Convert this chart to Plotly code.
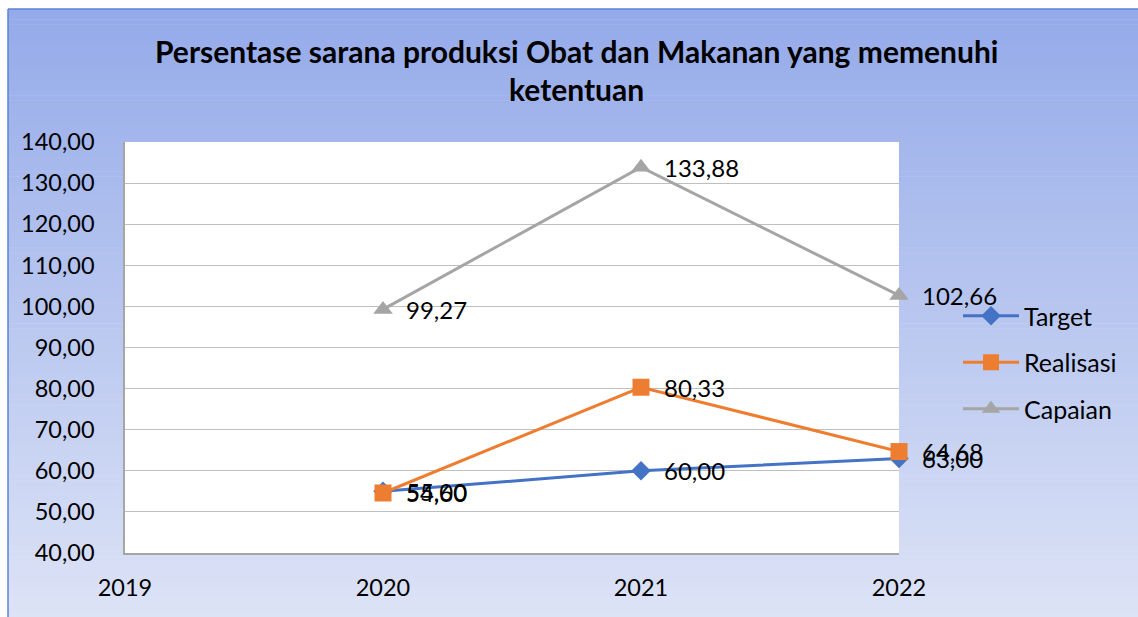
import plotly.graph_objects as go

# ---- data ----
years = [2020, 2021, 2022]
target = [55.00, 60.00, 63.00]
realisasi = [54.60, 80.33, 64.68]
capaian = [99.27, 133.88, 102.66]
series_names = ["Target", "Realisasi", "Capaian"]
x_ticks = [2019, 2020, 2021, 2022]
y_ticks = [40, 50, 60, 70, 80, 90, 100, 110, 120, 130, 140]
title_lines = ["Persentase sarana produksi Obat dan Makanan yang memenuhi", "ketentuan"]

W, H = 1138, 617
FONT = "Lato, Open Sans, sans-serif"

def fmt(v):
    return f"{v:.2f}".replace(".", ",")

colors = ["#4472C4", "#ED7D31", "#A5A5A5"]
symbols = ["diamond", "square", "triangle-up"]
sizes = [15, 17, 17]

fig = go.Figure()
for name, vals, c, s, sz in zip(series_names, [target, realisasi, capaian], colors, symbols, sizes):
    fig.add_trace(go.Scatter(
        x=years, y=vals, name=name, mode="lines+markers",
        line=dict(color=c, width=3),
        marker=dict(color=c, symbol=s, size=sz, line=dict(width=0)),
        legendgroup=name, cliponaxis=False,
    ))

annotations = []
for vals in [target, realisasi, capaian]:
    for xv, yv in zip(years, vals):
        annotations.append(dict(
            x=xv, y=yv, xref="x", yref="y", text=fmt(yv), showarrow=False,
            xanchor="left", yanchor="middle", xshift=21,
            font=dict(family=FONT, size=24, color="#000000"),
        ))

# title
annotations.append(dict(
    x=576 / W, y=1 - 51 / H, xref="paper", yref="paper",
    text="<b>" + title_lines[0] + "</b>", showarrow=False,
    xanchor="center", yanchor="middle",
    font=dict(family=FONT, size=30, color="#000000"),
))
annotations.append(dict(
    x=576 / W, y=1 - 89 / H, xref="paper", yref="paper",
    text="<b>" + title_lines[1] + "</b>", showarrow=False,
    xanchor="center", yanchor="middle",
    font=dict(family=FONT, size=30, color="#000000"),
))

# gradient background bands
shapes = []
top_c = (148, 170, 233)
bot_c = (221, 227, 246)
n = 120
y_top = 1 - 9 / H
for i in range(n):
    t0 = i / n
    t1 = (i + 1) / n
    tm = (t0 + t1) / 2
    col = tuple(int(round(top_c[k] + (bot_c[k] - top_c[k]) * tm)) for k in range(3))
    shapes.append(dict(
        type="rect", xref="paper", yref="paper", layer="below",
        x0=8 / W, x1=1, y0=y_top - t1 * y_top - 0.001, y1=y_top - t0 * y_top,
        fillcolor="rgb(%d,%d,%d)" % col, line=dict(width=0),
    ))
# chart border (left, top)
shapes.append(dict(type="line", xref="paper", yref="paper", layer="below",
                   x0=8 / W, x1=8 / W, y0=0, y1=y_top, line=dict(color="#5B83D6", width=1.5)))
shapes.append(dict(type="line", xref="paper", yref="paper", layer="below",
                   x0=8 / W, x1=1, y0=y_top, y1=y_top, line=dict(color="#5B83D6", width=1.5)))

xd = [125 / W, 899 / W]
yd = [1 - 553 / H, 1 - 142 / H]
shapes.append(dict(type="rect", xref="paper", yref="paper", layer="below",
                   x0=xd[0], x1=xd[1], y0=yd[0], y1=yd[1],
                   fillcolor="white", line=dict(width=0)))

fig.update_layout(
    template="none",
    width=W, height=H,
    margin=dict(l=0, r=0, t=0, b=0, pad=0, autoexpand=False),
    paper_bgcolor="white", plot_bgcolor="white",
    font=dict(family=FONT, size=23.5, color="#000000"),
    showlegend=True,
    legend=dict(
        x=958 / W, y=1 - 293 / H, xanchor="left", yanchor="top",
        bgcolor="rgba(0,0,0,0)", font=dict(family=FONT, size=25, color="#000000"),
        tracegroupgap=11, itemwidth=56,
    ),
    xaxis=dict(
        domain=xd, range=[2019, 2022], tickvals=x_ticks, ticktext=[str(v) for v in x_ticks],
        showgrid=False, zeroline=False, showline=True, linecolor="#A6A6A6", linewidth=1.5,
        ticks="", ticklabelstandoff=13, tickfont=dict(family=FONT, size=23.5), automargin=False,
    ),
    yaxis=dict(
        domain=yd, range=[40, 140], tickvals=y_ticks, ticktext=[fmt(v) for v in y_ticks],
        showgrid=True, gridcolor="#BFBFBF", gridwidth=1.2, zeroline=False,
        showline=True, linecolor="#A6A6A6", linewidth=1.5,
        ticks="", ticklabelstandoff=24, tickfont=dict(family=FONT, size=23.5), automargin=False,
    ),
    shapes=shapes,
    annotations=annotations,
)

fig.write_html("out.html", config={"displayModeBar": False},
               post_script="document.body.style.margin='0';document.body.style.overflow='hidden';")
